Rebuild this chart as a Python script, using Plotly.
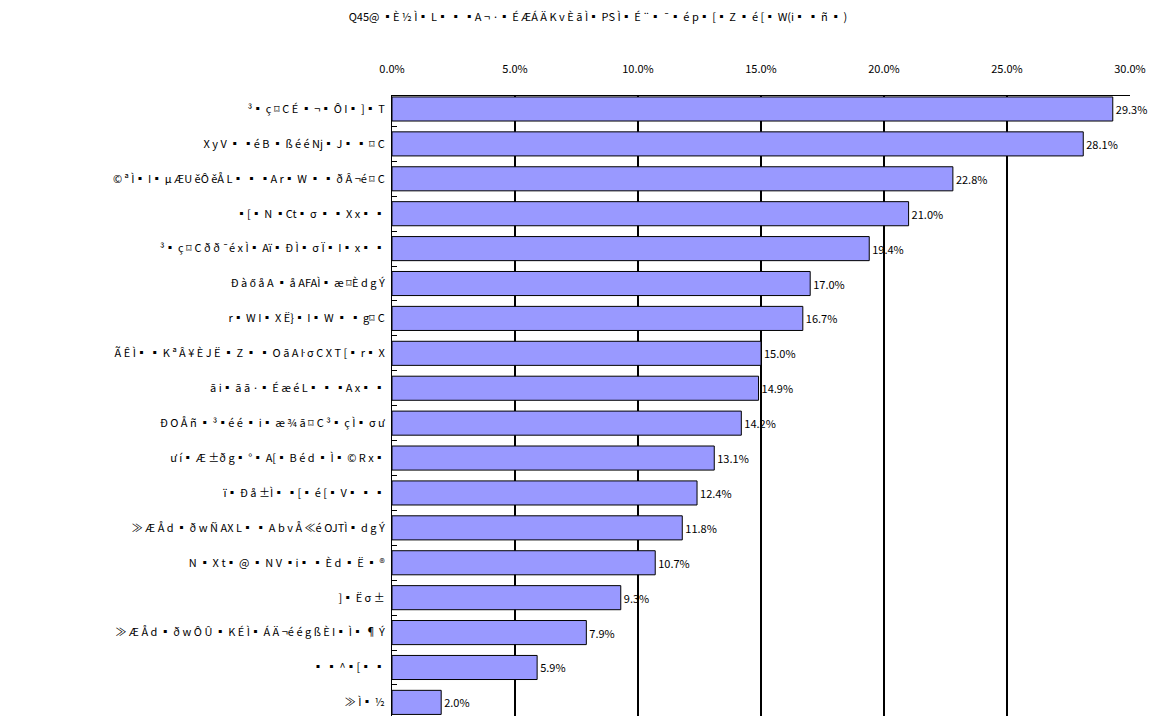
import plotly.graph_objects as go

title_text = "Q45@ ▪È ½ Ì▪ L▪ ▪ ▪A ¬ ·▪ É ÆÁ Ä K v È ā Ì▪ PS Ì▪ É ¨▪ ¯▪ é p▪ [▪ Z ▪ é [▪ W(i▪ ▪ ñ ▪ )"

categories = [
    "³▪ ç ⌑ C É ▪ ¬▪ Ô I▪ ]▪ T",
    "X y V ▪ ▪é B ▪ ß é é Nj▪ J▪ ▪ ⌑ C",
    "© ª Ì▪ I▪ µ ÆU ěÔ ěÅ L▪ ▪ ▪A r▪ W ▪ ▪ ð Â ¬é ⌑ C",
    "▪[▪ N ▪Ct▪ σ ▪ ▪ X x▪ ▪",
    "³▪ ç ⌑ C ð ð ¯é x Ì▪ Aï▪ Ð Ì▪ σ Ï▪ I▪ x▪ ▪",
    "Ð à ő å A ▪ å AFAÌ▪ æ ⌑È d g Ý",
    "r▪ W I▪ X Ë}▪ I▪ W ▪ ▪ g⌑ C",
    "Ã Ê Ì▪ ▪ K ª Â ¥ È J Ë ▪ Z ▪ ▪ O ā A ŀ σ C X T [▪ r▪ X",
    "ā i▪ ā ā ·▪ É æ é L▪ ▪ ▪A x▪ ▪",
    "Ð O Å ñ ▪ ³▪é é ▪ i▪ æ ¾ ā ⌑ C ³▪ ç Ì▪ σ ư",
    "ư í▪ Æ ±ð g▪ °▪ A[▪ B é d ▪ Ì▪ © R x▪",
    "ï▪ Ð å ±Ì▪ ▪[▪ é [▪ V▪ ▪ ▪",
    "≫ Æ Å d ▪ ð w Ñ AX L▪ ▪ A b v Å ≪é OJTÌ▪ d g Ý",
    "N ▪ X t▪ @ ▪ N V ▪i▪ ▪ È d ▪ Ë ▪ ®",
    "]▪ Ë σ ±",
    "≫ Æ Å d ▪ ð w Ô Û ▪ K É Ì▪ Á Ä ¬é é g ß È I▪ Ì▪ ¶ Ý",
    "▪ ▪ ^▪[▪ ▪",
    "≫ Ì▪ ½",
]

values = [29.3, 28.1, 22.8, 21.0, 19.4, 17.0, 16.7, 15.0, 14.9,
          14.2, 13.1, 12.4, 11.8, 10.7, 9.3, 7.9, 5.9, 2.0]

x_ticks = [0, 5, 10, 15, 20, 25, 30]

FONT = "MS PGothic, Noto Sans CJK JP, Liberation Sans, sans-serif"

fig = go.Figure()
fig.add_trace(go.Bar(
    x=values,
    y=categories,
    orientation="h",
    marker=dict(color="#9999FF", line=dict(color="#000000", width=1)),
    text=[f"{v:.1f}%" for v in values],
    textposition="outside",
    constraintext="none",
    cliponaxis=False,
    textfont=dict(family=FONT, size=11, color="#000000"),
    showlegend=False,
))

fig.update_layout(
    width=1152, height=716,
    margin=dict(l=392, r=22, t=96, b=0),
    paper_bgcolor="white", plot_bgcolor="white",
    bargap=0.31,
    title=dict(text=title_text, x=598 / 1152, xanchor="center", y=1 - 17 / 716, yanchor="middle",
               font=dict(family=FONT, size=11, color="#000000")),
    font=dict(family=FONT, size=11, color="#000000"),
)

fig.update_xaxes(
    side="top", range=[0, 30], tickvals=x_ticks,
    ticktext=[f"{t:.1f}%" for t in x_ticks],
    showgrid=True, gridcolor="#000000", gridwidth=2,
    showline=True, linecolor="#000000", linewidth=1, mirror=False,
    zeroline=False, ticks="", ticklabelstandoff=18,
    tickfont=dict(family=FONT, size=11, color="#000000"),
)

fig.update_yaxes(
    type="category",
    categoryorder="array", categoryarray=categories,
    range=[17.39, -0.372],
    tickson="boundaries",
    showgrid=False, zeroline=False,
    showline=True, linecolor="#000000", linewidth=1,
    ticks="inside", ticklen=5, tickcolor="#000000",
    tickfont=dict(family=FONT, size=11, color="#000000"),
    ticklabelstandoff=4,
)

fig.write_html("out.html")
